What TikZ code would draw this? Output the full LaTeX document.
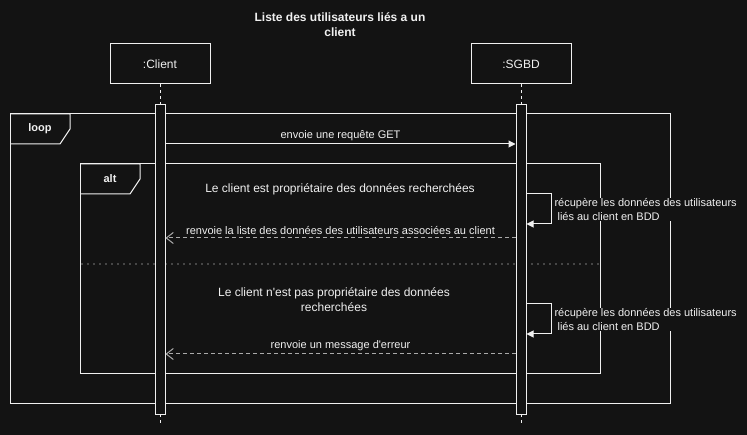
\documentclass[tikz,border=0pt]{standalone}
\usepackage{fontspec}
\setmainfont{Liberation Sans}
\definecolor{night}{RGB}{19,19,19}
\definecolor{chalk}{RGB}{240,240,240}
\definecolor{ash}{RGB}{170,170,170}
\usetikzlibrary{arrows.meta}
\usetikzlibrary{positioning}

\begin{document}
\begin{tikzpicture}[%
    x=1pt,y=-1pt,
    line width=1pt,
    participant/.style={%
      draw=chalk,
      fill=night,
      text=chalk,
      minimum width=100pt,
      minimum height=40pt,
      font=\fontsize{12}{15}\selectfont,
    },
    bar/.style={%
      draw=chalk,
      fill=night,
      minimum width=10pt,
      minimum height=310pt,
      inner sep=0pt,
    },
    lifeline/.style={%
      draw=chalk,
      dash pattern=on 3pt off 3pt,
    },
    frame/.style={%
      draw=chalk,
    },
    framelabel/.style={%
      text=chalk,
      font=\fontsize{11}{13}\selectfont\bfseries,
    },
    msglabel/.style={%
      text=chalk,
      fill=night,
      inner sep=1pt,
      font=\fontsize{11}{13.3}\selectfont,
    },
    guard/.style={%
      text=chalk,
      align=center,
      font=\fontsize{12}{15}\selectfont,
    },
    call/.style={%
      draw=chalk,
      -{Triangle[length=7pt,width=7pt]},
    },
    reply/.style={%
      draw=ash,
      dash pattern=on 4pt off 3pt,
      -{Straight Barb[length=7pt,width=11pt]},
    },
  ]
  \fill [night] (0,0) rectangle (747,435);
  \useasboundingbox (0,0) rectangle (747,435);

  \node [%
    guard,
    font=\fontsize{12}{15}\selectfont\bfseries,
  ] (title) at (340,24.5) {Liste des utilisateurs liés a un\\client};

  \node [participant] (client) at (160,64) {:Client};
  \node [%
    participant,
    right=260pt of client,
  ] (sgbd) {:SGBD};

  \draw [lifeline] (client.south) -- (client.south |- 0,423);
  \draw [lifeline] (sgbd.south) -- (sgbd.south |- 0,423);

  \draw [frame] (10,114) rectangle (670,404);
  \draw [frame] (10,114) -- (70,114) -- (70,129) -- (60,144) -- (10,144);
  \node [framelabel] (loop) at (40,129) {loop};

  \draw [frame] (80,164) rectangle (600,374);
  \draw [frame] (80,164) -- (140,164) -- (140,179) -- (130,194) -- (80,194);
  \node [framelabel] (alt) at (110,179) {alt};
  \draw [%
    draw=chalk,
    line cap=round,
    dash pattern=on 0pt off 6pt,
    line width=1.3pt,
  ] (82,264) -- (600,264);

  \node [%
    bar,
    below=20pt of client,
  ] (client bar) {};
  \node [%
    bar,
    below=20pt of sgbd,
  ] (sgbd bar) {};

  \draw [call] (client bar.east |- 0,144) -- (sgbd bar.west |- 0,144)
    node [msglabel, midway, above=2pt] {envoie une requête GET};

  \node [guard] (owner) at (340,189) {Le client est propriétaire des données recherchées};
  \draw [call] (sgbd bar.east |- 0,194) -- ++(25,0) -- ++(0,30) -- (sgbd bar.east |- 0,224);
  \node [%
    msglabel,
    align=left,
    anchor=west,
  ] (fetch a) at (553,209.5) {récupère les données des utilisateurs\\\ liés au client en BDD};
  \draw [reply] (sgbd bar.west |- 0,238) -- (client bar.east |- 0,238)
    node [msglabel, midway, above=2pt] {renvoie la liste des données des utilisateurs associées au client};

  \node [guard] (not owner) at (334,299.5) {Le client n\textquotesingle est pas propriétaire des données\\recherchées};
  \draw [call] (sgbd bar.east |- 0,304) -- ++(25,0) -- ++(0,30) -- (sgbd bar.east |- 0,334);
  \node [%
    msglabel,
    align=left,
    anchor=west,
  ] (fetch b) at (553,319.5) {récupère les données des utilisateurs\\\ liés au client en BDD};
  \draw [reply] (sgbd bar.west |- 0,354) -- (client bar.east |- 0,354)
    node [msglabel, midway, above=2pt] {renvoie un message d\textquotesingle erreur};
\end{tikzpicture}
\end{document}
